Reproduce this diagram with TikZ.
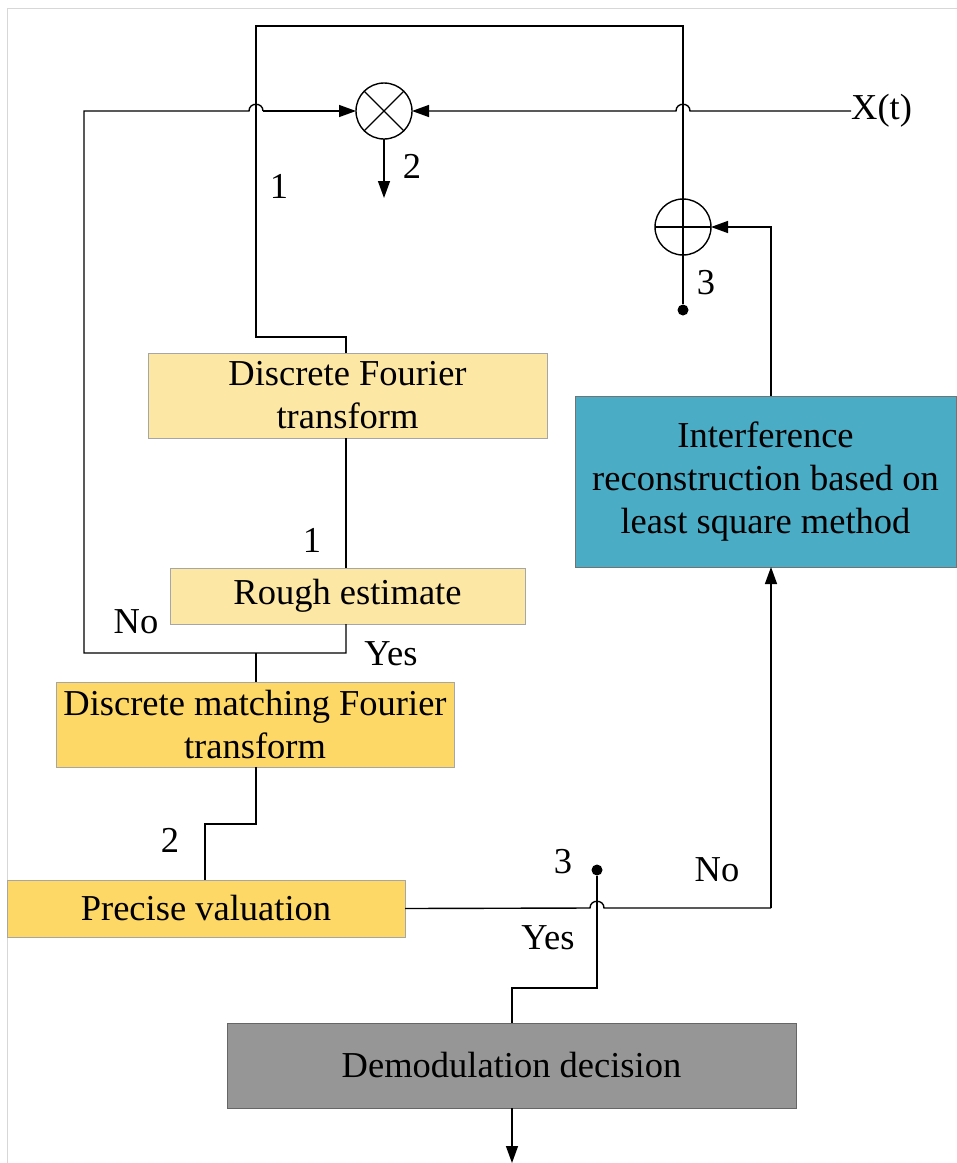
\documentclass[tikz,border=0pt]{standalone}
\usepackage{fontspec}
\setmainfont{Liberation Serif}
\usetikzlibrary{arrows.meta}
\definecolor{lightyel}{RGB}{253,231,165}
\definecolor{darkyel}{RGB}{253,216,103}
\definecolor{tealbox}{RGB}{75,172,198}
\definecolor{graybox}{RGB}{150,150,150}
\definecolor{pageline}{RGB}{215,215,215}
\tikzset{
  wire/.style={line width=1.4pt, line join=miter},
  arr/.style={wire, -{Triangle[length=17pt,width=12pt]}},
  block/.style={rectangle, inner sep=0pt, outer sep=0pt, align=center,
    font=\fontsize{36.5}{43}\selectfont, anchor=north west},
  ybox/.style={block, fill=lightyel, draw=black!35, line width=0.8pt},
  dbox/.style={block, fill=darkyel, draw=black!35, line width=0.8pt},
  tbox/.style={block, fill=tealbox, draw=black!55, line width=0.8pt},
  gbox/.style={block, fill=graybox, draw=black!60, line width=0.8pt},
  opcircle/.style={circle, draw, line width=1.4pt, minimum size=56pt, inner sep=0pt, outer sep=0pt},
  lbl/.style={font=\fontsize{36.5}{40}\selectfont, inner sep=0pt},
  dotnode/.style={circle, fill=black, minimum size=11pt, inner sep=0pt},
}
\begin{document}
\begin{tikzpicture}[x=1pt, y=-1pt]
\useasboundingbox (0,0) rectangle (957,1163);
% faint page border
\draw[pageline, line width=1pt] (7,1163) -- (7,8) -- (957,8);

% blocks
\node[ybox, minimum width=399pt, minimum height=85pt] (dft) at (148,353) {Discrete Fourier\\transform};
\node[ybox, minimum width=355pt, minimum height=56pt] (rough) at (170,568) {Rough estimate};
\node[dbox, minimum width=398pt, minimum height=85pt] (dmft) at (56,682) {Discrete matching Fourier\\transform};
\node[dbox, minimum width=398pt, minimum height=57pt] (pv) at (7,880) {Precise valuation};
\node[tbox, minimum width=381pt, minimum height=171pt] (intf) at (575,396) {Interference\\reconstruction based on\\least square method};
\node[gbox, minimum width=569pt, minimum height=85pt] (demod) at (227,1023) {Demodulation decision};

% operators
\node[opcircle] (mult) at (384,111) {};
\draw[line width=1.4pt] (mult.45) -- (mult.225) (mult.135) -- (mult.315);
\node[opcircle] (add) at (683,227) {};
\draw[line width=1.4pt] (add.west) -- (add.east);

% input label
\node[lbl, anchor=west] (xt) at (851,111) {X(t)};

% dots
\node[dotnode] (dotA) at (683,310) {};
\node[dotnode] (dotB) at (597,870) {};

% coordinates
\coordinate (topL) at (256,26);
\coordinate (topR) at (683,26);
\coordinate (stepA) at (256,337);
\coordinate (loopL) at (84,653);
\coordinate (loopR) at (346,653);
\coordinate (loopM) at (256,653);
\coordinate (multOut) at (384,198);
\coordinate (stepB) at (256,824);
\coordinate (stepC) at (205,824);
\coordinate (pvR) at (771,908);
\coordinate (addR) at (771,227);
\coordinate (stepD) at (597,988);
\coordinate (stepE) at (512,988);
\coordinate (outEnd) at (512,1163);

% X(t) to multiplier, hop over x=683
\draw[arr] (xt.west) -- (690,111) .. controls (690,102) and (676,102) .. (676,111) -- (mult.east);

% top loop: DFT -> up -> over -> down through adder
\draw[wire] (dft.north -| 346,0) -- (346,337) -- (stepA) -- (topL) -- (topR) -- (add.north);
\draw[wire] (add.north) -- (add.south) -- (dotA);

% rough loop (No) back to multiplier, hop over x=256
\draw[wire] (rough.south -| loopR) -- (loopR) -- (loopL) -- (84,111) -- (249,111)
  .. controls (249,102) and (263,102) .. (263,111);
\draw[arr] (263,111) -- (mult.west);

% multiplier output
\draw[arr] (mult.south) -- (multOut);

% DFT -> rough
\draw[wire] (dft.south -| 346,0) -- (rough.north -| 346,0);

% rough (Yes) -> DMFT
\draw[wire] (loopM) -- (dmft.north -| loopM);

% DMFT -> precise valuation
\draw[wire] (dmft.south -| stepB) -- (stepB) -- (stepC) -- (pv.north -| stepC);

% precise valuation (No) -> interference, hop over x=597
\draw[wire] (pv.east) -- (590,908) .. controls (590,899) and (604,899) .. (604,908) -- (pvR);
\draw[arr] (pvR) -- (intf.south -| pvR);

% interference -> adder
\draw[arr] (intf.north -| addR) -- (addR) -- (add.east);

% Yes -> demodulation
\draw[wire] (dotB) -- (stepD) -- (stepE) -- (demod.north -| stepE);
\draw[arr] (demod.south -| outEnd) -- (outEnd);

% labels
\node[lbl] (l1a) at (279,186) {1};
\node[lbl] (l2a) at (412,166) {2};
\node[lbl] (l3a) at (706,283) {3};
\node[lbl] (l1b) at (312,540) {1};
\node[lbl] (lno1) at (136,622) {No};
\node[lbl] (lyes1) at (391,654) {Yes};
\node[lbl] (l2b) at (170,840) {2};
\node[lbl] (l3b) at (563,862) {3};
\node[lbl] (lno2) at (717,870) {No};
\node[lbl] (lyes2) at (548,938) {Yes};
\end{tikzpicture}
\end{document}
